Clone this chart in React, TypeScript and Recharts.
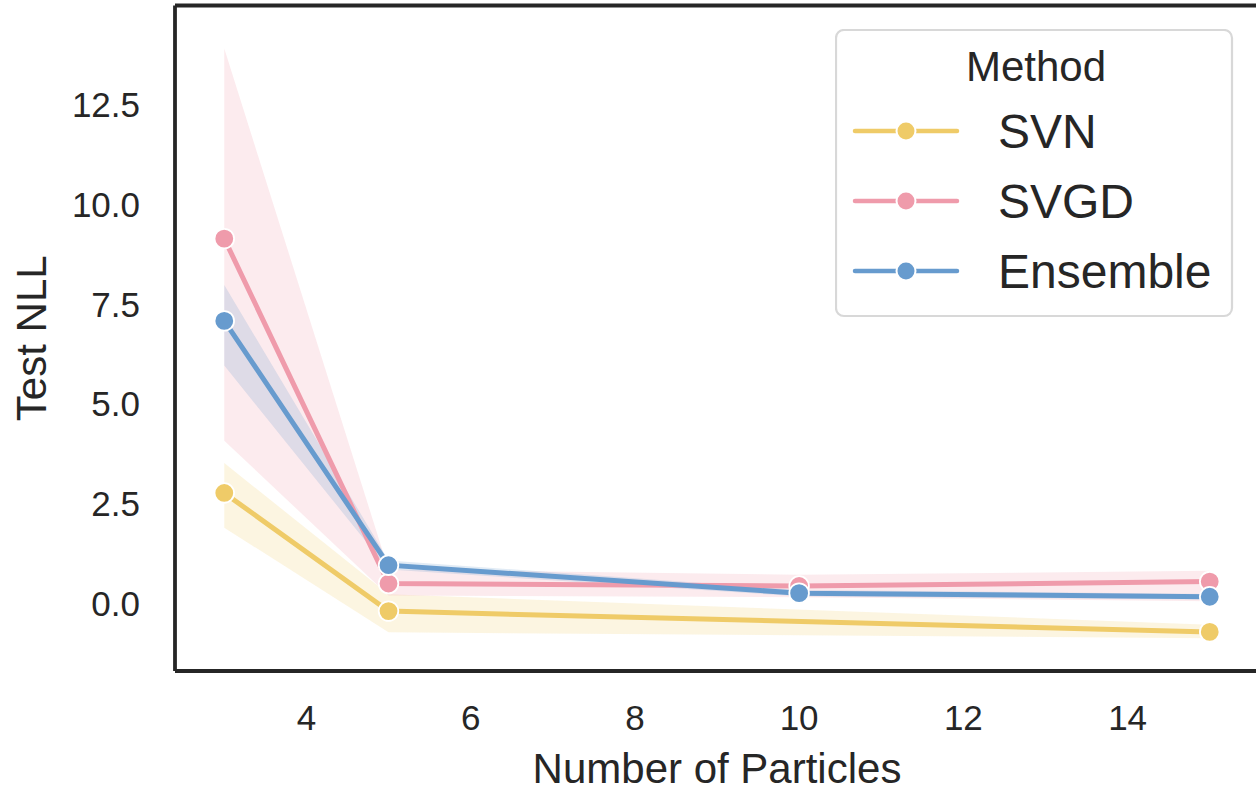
import React from 'react';
import { ComposedChart, Line, Area, XAxis, YAxis, Legend, ReferenceLine } from 'recharts';

const FONT = '"Liberation Sans", Arial, Helvetica, sans-serif';
const INK = '#262626';

// Series data
const svnX = [3, 5, 15];
const svnMean = [2.77, -0.19, -0.71];
const svnLo = [1.9, -0.72, -0.87];
const svnHi = [3.52, 0.23, -0.53];

const svgdX = [3, 5, 10, 15];
const svgdMean = [9.14, 0.5, 0.44, 0.55];
const svgdLo = [4.08, 0.2, 0.16, 0.06];
const svgdHi = [13.9, 0.85, 0.72, 0.82];

const ensX = [3, 5, 10, 15];
const ensMean = [7.08, 0.96, 0.26, 0.17];
const ensLo = [5.96, 0.85, 0.18, 0.1];
const ensHi = [7.98, 1.08, 0.34, 0.24];

const xTicks = [4, 6, 8, 10, 12, 14];
const yTicks = [0, 2.5, 5, 7.5, 10, 12.5];
const xDomain: [number, number] = [2.4, 15.6];
const yDomain: [number, number] = [-1.69, 14.98];

const seriesNames = ['SVN', 'SVGD', 'Ensemble'];
const colors = ['#EFCB68', '#EF9BAB', '#679BCE'];

const rows = (xs: number[], m: number[], lo: number[], hi: number[]) =>
  xs.map((x, i) => ({ x, mean: m[i], band: [lo[i], hi[i]] }));

const seriesData = [
  rows(svnX, svnMean, svnLo, svnHi),
  rows(svgdX, svgdMean, svgdLo, svgdHi),
  rows(ensX, ensMean, ensLo, ensHi),
];

const LegendBox = () => (
  <svg width={400} height={290} style={{ display: 'block' }}>
    <rect x={1} y={1} width={396} height={286} rx={8} ry={8} fill="rgba(255,255,255,0.85)" stroke="#D8D8D8" strokeWidth={2.2} />
    <text x={201} y={37} textAnchor="middle" dominantBaseline="central" fontSize={42} fontFamily={FONT} fill={INK}>
      Method
    </text>
    {seriesNames.map((n, i) => {
      const cy = 102 + i * 70;
      return (
        <g key={n}>
          <line x1={20} x2={122} y1={cy} y2={cy} stroke={colors[i]} strokeWidth={4.5} strokeLinecap="round" />
          <circle cx={71} cy={cy} r={9.5} fill={colors[i]} stroke="#fff" strokeWidth={2} />
          <text x={163} y={cy} dominantBaseline="central" fontSize={48} fontFamily={FONT} fill={INK}>
            {n}
          </text>
        </g>
      );
    })}
  </svg>
);

const XLabel = (props: any) => {
  const vb = props.viewBox || {};
  return (
    <text x={vb.x + vb.width / 2} y={vb.y + 112} textAnchor="middle" fontSize={42} fontFamily={FONT} fill={INK}>
      Number of Particles
    </text>
  );
};

const YLabel = (props: any) => {
  const vb = props.viewBox || {};
  const cx = 46;
  const cy = vb.y + vb.height / 2;
  return (
    <text x={cx} y={cy} textAnchor="middle" transform={`rotate(-90, ${cx}, ${cy})`} fontSize={42} fontFamily={FONT} fill={INK}>
      Test NLL
    </text>
  );
};

export default function App() {
  return (
    <div style={{ position: 'absolute', left: 0, top: 0, width: 1256, height: 788, overflow: 'hidden', background: '#fff' }}>
      <ComposedChart width={1270} height={788} margin={{ top: 5.5, right: 11, left: 0, bottom: 0 }}>
        <XAxis
          dataKey="x"
          type="number"
          domain={xDomain}
          ticks={xTicks}
          allowDataOverflow
          height={117}
          tickSize={0}
          tickMargin={34}
          tickLine={false}
          axisLine={{ stroke: INK, strokeWidth: 3.8 }}
          tick={{ fontSize: 35, fill: INK, fontFamily: FONT }}
          label={<XLabel />}
        />
        <YAxis
          type="number"
          domain={yDomain}
          ticks={yTicks}
          allowDataOverflow
          width={175}
          tickSize={0}
          tickMargin={35}
          tickLine={false}
          axisLine={{ stroke: INK, strokeWidth: 3.8 }}
          tick={{ fontSize: 35, fill: INK, fontFamily: FONT }}
          tickFormatter={(v: number) => v.toFixed(1)}
          label={<YLabel />}
        />
        <ReferenceLine y={yDomain[1]} stroke={INK} strokeWidth={3.8} ifOverflow="visible" />
        {seriesData.map((d, i) => (
          <Area
            key={'band' + i}
            data={d}
            dataKey="band"
            type="linear"
            stroke="none"
            fill={colors[i]}
            fillOpacity={0.2}
            isAnimationActive={false}
            dot={false}
            activeDot={false}
            legendType="none"
          />
        ))}
        {seriesData.map((d, i) => (
          <Line
            key={'line' + i}
            data={d}
            dataKey="mean"
            name={seriesNames[i]}
            type="linear"
            stroke={colors[i]}
            strokeWidth={5}
            dot={{ r: 9.8, fill: colors[i], stroke: '#fff', strokeWidth: 1.8 }}
            activeDot={false}
            isAnimationActive={false}
          />
        ))}
        <Legend
          layout="horizontal"
          verticalAlign="middle"
          align="center"
          wrapperStyle={{ position: 'absolute', left: 835, top: 29, width: 400, height: 290 }}
          content={() => <LegendBox />}
        />
      </ComposedChart>
    </div>
  );
}
